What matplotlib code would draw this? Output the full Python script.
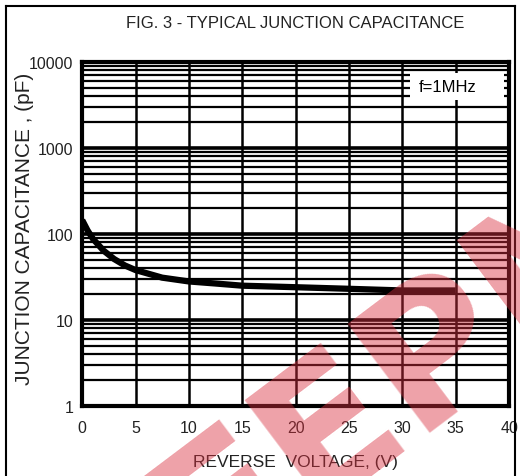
import matplotlib

matplotlib.use("Agg")
import matplotlib.pyplot as plt
from matplotlib.lines import Line2D
from matplotlib.patches import Rectangle

plt.rcParams["font.family"] = ["Liberation Sans", "DejaVu Sans"]

# typical junction capacitance vs reverse voltage
VOLTAGE = [0, 0.5, 1, 2, 3, 4, 5, 7.5, 10, 12.5, 15, 20, 25, 30, 35]
CAP_PF = [145, 110, 88, 64, 51, 43, 38, 31, 28, 26.5, 25, 24, 23, 22, 22]
X_TICKS = [0, 5, 10, 15, 20, 25, 30, 35, 40]
Y_TICKS = [1, 10, 100, 1000, 10000]
Y_TICK_LABELS = ["1", "10", "100", "1000", "10000"]
TEXT = "#222222"

fig = plt.figure(figsize=(5.2, 4.77), dpi=100)
ax = fig.add_axes([0.158, 0.147, 0.821, 0.721])

ax.set_yscale("log")
ax.set_xlim(0, 40)
ax.set_ylim(1, 10000)

# dense datasheet grid: every 1-2-..-9 per decade, thicker decade lines
for dec in (1, 10, 100, 1000):
    for m in range(2, 10):
        ax.axhline(dec * m, color="black", linewidth=1.6, zorder=1)
for y in Y_TICKS:
    ax.axhline(y, color="black", linewidth=2.6, zorder=1)
for x in X_TICKS:
    ax.axvline(x, color="black", linewidth=1.8, zorder=1)

ax.plot(VOLTAGE, CAP_PF, color="black", linewidth=4.5, solid_capstyle="butt", zorder=3)

ax.set_xticks(X_TICKS)
ax.set_yticks(Y_TICKS, Y_TICK_LABELS)
ax.minorticks_off()
ax.tick_params(length=0, labelsize=11.5, colors=TEXT)
ax.tick_params(axis="y", pad=6.5)
ax.tick_params(axis="x", pad=10)
for side in ax.spines.values():
    side.set_linewidth(3)

ax.add_patch(Rectangle((30.7, 3620), 8.8, 3830, facecolor="white", edgecolor="none", zorder=2))
ax.text(31.5, 5200, "f=1MHz", fontsize=12, va="center", ha="left", zorder=4)

fig.text(295 / 520, 1 - 463 / 477, "REVERSE  VOLTAGE, (V)", fontsize=12.5,
         ha="center", va="center", color=TEXT)
fig.text(25 / 520, 1 - 229 / 477, "JUNCTION CAPACITANCE , (pF)", fontsize=15,
         rotation=90, ha="center", va="center", color=TEXT)
fig.text(295 / 520, 1 - 24 / 477, "FIG. 3 - TYPICAL JUNCTION CAPACITANCE", fontsize=12,
         ha="center", va="center", color=TEXT)

# frame of the datasheet figure
for xs, ys in (([0.011, 0.011], [0, 0.986]), ([0.990, 0.990], [0, 0.986]),
               ([0.011, 0.990], [0.986, 0.986])):
    fig.add_artist(Line2D(xs, ys, color="black", linewidth=1.5))

# distributor watermark stamped over the lower right corner
fig.text(0.765, 0.205, "EEPN", fontsize=135, fontweight="bold", color="#d9303f",
         alpha=0.45, rotation=37, ha="center", va="center", zorder=10,
         family="DejaVu Sans")

fig.savefig("out.png", dpi=100)
